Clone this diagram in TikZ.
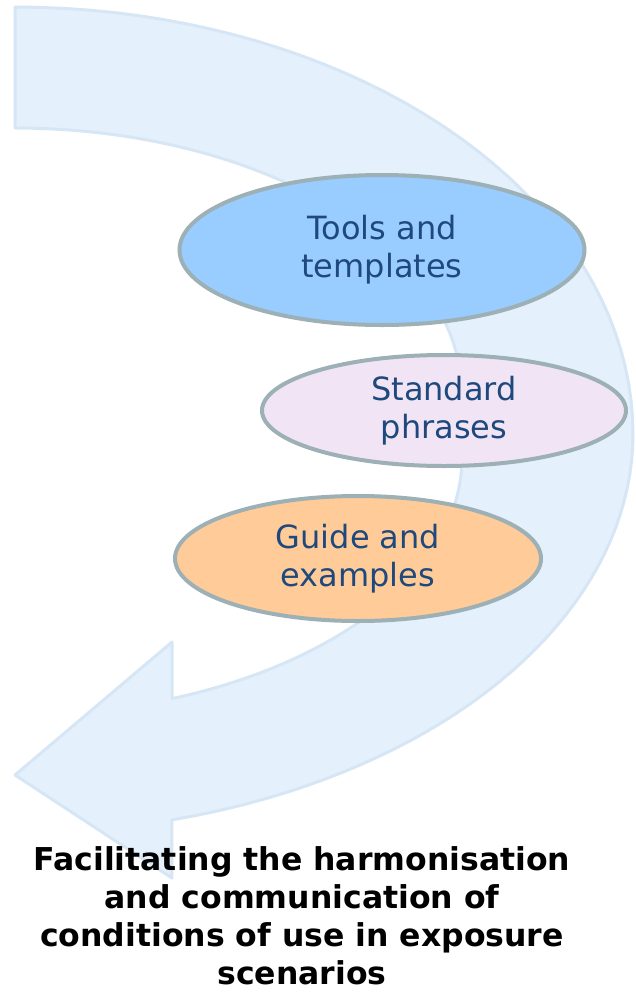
\documentclass[tikz,border=0pt]{standalone}
\usepackage{fontspec}
\setmainfont{DejaVu Sans}
\usetikzlibrary{shapes.geometric,positioning}
\definecolor{bandfill}{RGB}{228,241,253}
\definecolor{bandline}{RGB}{214,230,245}
\definecolor{rimgrey}{RGB}{157,176,181}
\definecolor{textblue}{RGB}{31,73,125}
\definecolor{toolsblue}{RGB}{153,204,255}
\definecolor{phraselilac}{RGB}{240,228,245}
\definecolor{guideorange}{RGB}{255,204,153}

\begin{document}
\begin{tikzpicture}[x=1pt,y=-1pt,
  band/.style={fill=bandfill,draw=bandline,line width=3pt,line join=round},
  bubble/.style={ellipse,draw=rimgrey,line width=4pt,inner sep=0pt,align=center,
    text=textblue,font=\fontsize{32}{38}\selectfont},
  headline/.style={align=center,inner sep=0pt,anchor=base,
    font=\bfseries\fontsize{31.5}{38}\selectfont}]
\useasboundingbox (0,0) rectangle (635,994);

\draw[band] plot[domain=90:0, samples=40, variable=\t] ({15+618*cos(\t)}, {434-427*sin(\t)})
  -- plot[domain=0:-75.3, samples=40, variable=\t] ({15+618*cos(\t)}, {434-399*sin(\t)})
  -- (172,878) -- (15,775) -- (172,642)
  -- plot[domain=-69.4:0, samples=40, variable=\t] ({15+447*cos(\t)}, {458-257*sin(\t)})
  -- plot[domain=0:90, samples=40, variable=\t] ({15+447*cos(\t)}, {395-267*sin(\t)})
  -- cycle;

\node[bubble, fill=toolsblue, minimum width=405, minimum height=150] (tools) at (382,250) {Tools and\\templates};
\path (tools) ++ (62,160.5) node[bubble, fill=phraselilac, minimum width=364, minimum height=111] (phrases) {Standard\\phrases};
\path (tools) ++ (-24,308.5) node[bubble, fill=guideorange, minimum width=366, minimum height=125] (guide) {Guide and\\examples};

\node[headline] (title) at (302,984) {Facilitating the harmonisation\\and communication of\\conditions of use in exposure\\scenarios};
\end{tikzpicture}
\end{document}
